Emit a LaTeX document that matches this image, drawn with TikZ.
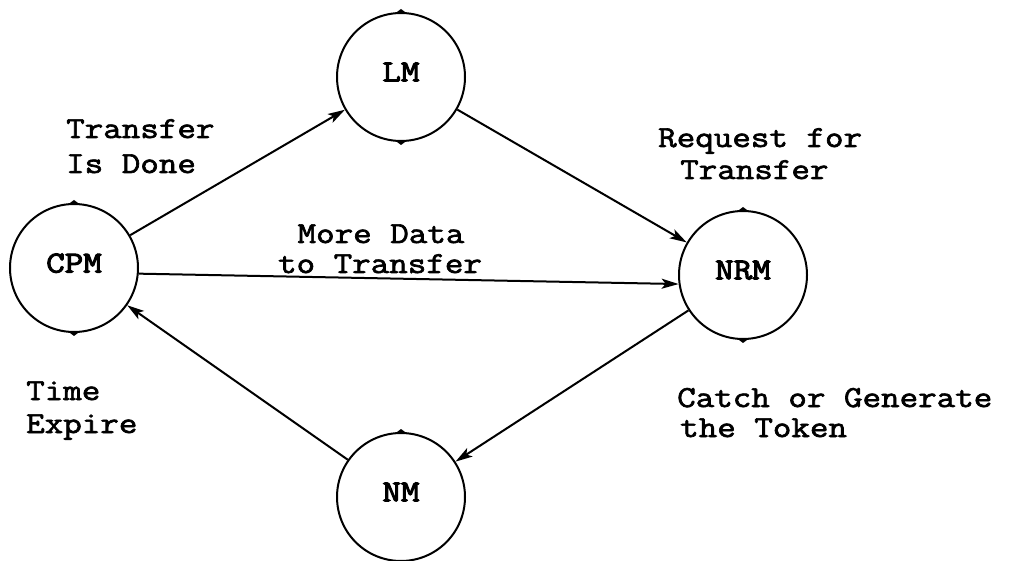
\documentclass[tikz,border=0pt]{standalone}
\usepackage{fontspec}
\usetikzlibrary{arrows.meta}
\newfontfamily\typefont[FakeBold=2.2,FakeStretch=1.18]{Latin Modern Mono}
\newfontfamily\statefont[FakeBold=3.4,FakeStretch=1.18]{Latin Modern Mono}
\tikzset{
  state/.style={circle, draw, line width=2pt, minimum size=128pt, inner sep=0pt,
    font=\statefont\fontsize{30.5}{32}\selectfont, text depth=10pt},
  trans/.style={line width=2pt, -{Stealth[length=17pt,width=10pt,inset=4pt]}},
  note/.style={inner sep=0pt, font=\typefont\fontsize{30.5}{32}\selectfont},
}
\begin{document}
\begin{tikzpicture}[x=1pt,y=-1pt]
  \useasboundingbox (0,0) rectangle (1010,561);

  % states
  \node[state] (CPM) at (74,268) {CPM};
  \node[state] (LM)  at (401,77) {LM};
  \node[state] (NRM) at (743,275) {NRM};
  \node[state] (NM)  at (401,497) {NM};

  % small marks at the top and bottom of each state circle
  \foreach \s in {CPM,LM,NRM,NM} {
    \fill ([xshift=-4pt]\s.north) -- ([yshift=3pt]\s.north) -- ([xshift=4pt]\s.north) -- cycle;
    \fill ([xshift=-4pt]\s.south) -- ([yshift=-3pt]\s.south) -- ([xshift=4pt]\s.south) -- cycle;
  }

  % transitions
  \draw[trans] (CPM) -- (LM);
  \draw[trans] (LM) -- (NRM);
  \draw[trans] (CPM.-5) -- (NRM.188);
  \draw[trans] (NRM) -- (NM);
  \draw[trans] (NM) -- (CPM);

  % transition labels
  \node[note, anchor=base west] (t1a) at (66,138) {Transfer};
  \node[note, anchor=base west] (t1b) at (66,173) {Is Done};
  \node[note, anchor=base] (t2a) at (381,243) {More Data};
  \node[note, anchor=base] (t2b) at (380,273) {to Transfer};
  \node[note, anchor=base west] (t3a) at (658,147) {Request for};
  \node[note, anchor=base west] (t3b) at (680,179) {Transfer};
  \node[note, anchor=base west] (t4a) at (677,407) {Catch or Generate};
  \node[note, anchor=base west] (t4b) at (680,437) {the Token};
  \node[note, anchor=base west] (t5a) at (26,400) {Time};
  \node[note, anchor=base west] (t5b) at (26,433) {Expire};
\end{tikzpicture}
\end{document}
